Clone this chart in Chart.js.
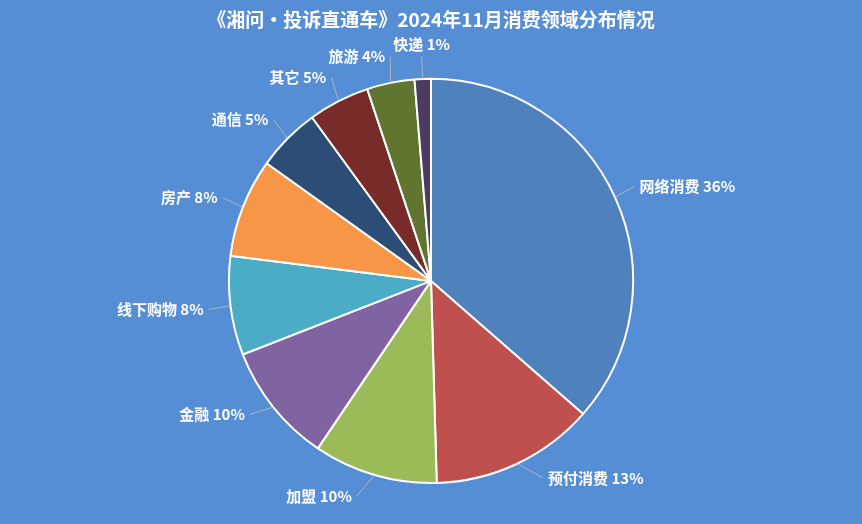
<!DOCTYPE html>
<html>
<head>
<meta charset="utf-8">
<title>2024年11月消费领域分布情况</title>
<script src="https://cdn.jsdelivr.net/npm/chart.js@4/dist/chart.umd.min.js"></script>
<style>
    html, body { margin: 0; padding: 0; background: #558ed5; }
    #wrap { width: 862px; height: 524px; }
</style>
</head>
<body>
<div id="wrap"><canvas id="pieChart"></canvas></div>
<script>
const categories = ['网络消费', '预付消费', '加盟', '金融', '线下购物', '房产', '通信', '其它', '旅游', '快递'];
const shares = [36.4, 13.1, 9.9, 9.6, 7.9, 7.9, 5.1, 4.9, 3.8, 1.3];
const sliceColors = ['#4f81bd', '#c0504d', '#9bbb59', '#8064a2', '#4bacc6', '#f79646', '#2c4d75', '#772c2a', '#5f7530', '#4d3b62'];

const FONT = '"Microsoft YaHei", "Noto Sans CJK SC", sans-serif';

// labels outside the pie with a thin leader line
const outsideLabels = {
    id: 'outsideLabels',
    afterDatasetsDraw(chart, args, opts) {
        const ctx = chart.ctx;
        const meta = chart.getDatasetMeta(0);
        const total = shares.reduce((a, b) => a + b, 0);
        const nudge = opts.angleNudge || {};
        ctx.save();
        ctx.font = 'bold 15px ' + FONT;
        meta.data.forEach(function(arc, i) {
            const p = arc.getProps(['x', 'y', 'startAngle', 'endAngle', 'outerRadius'], true);
            const mid = (p.startAngle + p.endAngle) / 2;
            const la = mid + (nudge[i] || 0) * Math.PI / 180;
            const ex = p.x + Math.cos(mid) * p.outerRadius, ey = p.y + Math.sin(mid) * p.outerRadius;
            const cos = Math.cos(la), sin = Math.sin(la);
            const ax = p.x + cos * (p.outerRadius + 27), ay = p.y + sin * (p.outerRadius + 27);
            const text = categories[i] + ' ' + Math.round(shares[i] / total * 100) + '%';

            let lx = ax, ly = ay;
            ctx.textBaseline = 'middle';
            if (cos > 0.15) {
                ctx.textAlign = 'left';
                lx = ax - 5;
            } else if (cos < -0.15) {
                ctx.textAlign = 'right';
                lx = ax + 5;
            } else {
                ctx.textAlign = 'center';
                ctx.textBaseline = sin < 0 ? 'bottom' : 'top';
                ly = sin < 0 ? ay + 4 : ay - 4;
            }

            ctx.strokeStyle = 'rgba(190, 190, 190, 0.8)';
            ctx.lineWidth = 1;
            ctx.beginPath();
            ctx.moveTo(ex, ey);
            ctx.lineTo(lx, ly);
            ctx.stroke();

            ctx.fillStyle = '#ffffff';
            ctx.fillText(text, ax, ay);
        });
        ctx.restore();
    }
};

document.addEventListener('DOMContentLoaded', function() {
    const pieCtx = document.getElementById('pieChart');
    new Chart(pieCtx, {
        type: 'pie',
        data: {
            labels: categories,
            datasets: [{
                data: shares,
                backgroundColor: sliceColors,
                borderColor: '#ffffff',
                borderWidth: 2
            }]
        },
        options: {
            responsive: true,
            maintainAspectRatio: false,
            animation: false,
            layout: {
                padding: { bottom: 40 }
            },
            plugins: {
                legend: { display: false },
                tooltip: { enabled: false },
                title: {
                    display: true,
                    text: '《湘问•投诉直通车》2024年11月消费领域分布情况',
                    color: '#ffffff',
                    font: { family: FONT, size: 19, weight: 'bold', lineHeight: 1.2 },
                    padding: { top: 8, bottom: 47 }
                },
                outsideLabels: {
                    angleNudge: { 1: -5.5, 2: 4, 3: 3 }
                }
            }
        },
        plugins: [outsideLabels]
    });
});
</script>
</body>
</html>
